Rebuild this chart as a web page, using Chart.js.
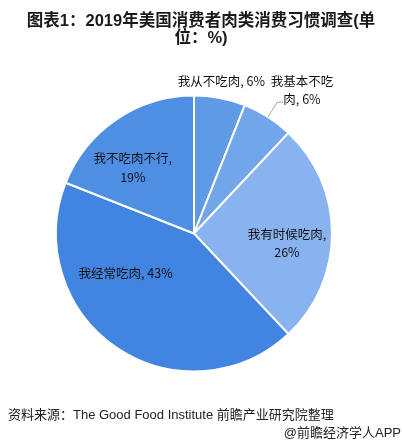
<!DOCTYPE html>
<html>
<head>
<meta charset="utf-8">
<script src="https://cdn.jsdelivr.net/npm/chart.js@4"></script>
<style>
  html, body { margin: 0; padding: 0; background: #fff; }
  #wrap { position: relative; width: 402px; height: 445px; overflow: hidden; }
  #title {
    position: absolute; left: 0; top: 12px; width: 402px; text-align: center;
    font: bold 16.5px "Liberation Sans", "Noto Sans CJK SC", sans-serif;
    line-height: 16.5px; color: #1a1a1a;
  }
  #source {
    position: absolute; left: 8px; top: 404px;
    font: 13px "Liberation Sans", "Noto Sans CJK SC", sans-serif; color: #222;
  }
  #brand {
    position: absolute; right: 1px; top: 422px;
    font: 13px "Liberation Sans", "Noto Sans CJK SC", sans-serif; color: #222;
  }
  canvas { position: absolute; left: 0; top: 0; }
</style>
</head>
<body>
<div id="wrap">
  <canvas id="pieChart" width="402" height="445"></canvas>
  <div id="title">图表1：2019年美国消费者肉类消费习惯调查(单<br>位：%)</div>
  <div id="source">资料来源：The Good Food Institute 前瞻产业研究院整理</div>
  <div id="brand">@前瞻经济学人APP</div>
</div>
<script>
const categories = ['我从不吃肉', '我基本不吃肉', '我有时候吃肉', '我经常吃肉', '我不吃肉不行'];
const shares = [6, 6, 26, 43, 19];
const sliceColors = ['#5f9ae6', '#72a6eb', '#88b3ef', '#4285e0', '#4f8fe3'];

// where each label sits: radius fraction and angle shift (deg) from slice middle,
// char index to wrap at (0 = no wrap), whether a leader line is drawn
const labelLayout = [
    { r: 1.12, da: -0.6, wrap: 0 },
    { r: 1.30, da: 4.6, wrap: 5, leader: true },
    { r: 0.677, da: 6.1, wrap: 7 },
    { r: 0.575, da: 25.4, wrap: 0 },
    { r: 0.65, da: -8.8, wrap: 7 }
];

const sliceLabels = {
    id: 'sliceLabels',
    afterDatasetsDraw(chart) {
        const ctx = chart.ctx;
        const meta = chart.getDatasetMeta(0);
        ctx.save();
        ctx.font = '12.5px "Noto Sans CJK SC", sans-serif';
        ctx.fillStyle = '#111';
        ctx.textAlign = 'center';
        ctx.textBaseline = 'middle';
        meta.data.forEach((arc, i) => {
            const p = arc.getProps(['x', 'y', 'startAngle', 'endAngle', 'outerRadius'], true);
            const mid = (p.startAngle + p.endAngle) / 2;
            const lay = labelLayout[i];
            const a = mid + lay.da * Math.PI / 180;
            const cx = p.x + Math.cos(a) * p.outerRadius * lay.r;
            const cy = p.y + Math.sin(a) * p.outerRadius * lay.r;
            const text = categories[i] + ', ' + shares[i] + '%';
            let lines = [text];
            if (lay.wrap) {
                lines = [text.slice(0, lay.wrap), text.slice(lay.wrap).trim()];
            }
            const lh = 18.5;
            lines.forEach((ln, k) => {
                ctx.fillText(ln, cx, cy + (k - (lines.length - 1) / 2) * lh);
            });
            if (lay.leader) {
                const x0 = p.x + Math.cos(mid) * p.outerRadius;
                const y0 = p.y + Math.sin(mid) * p.outerRadius;
                const x1 = p.x + Math.cos(mid) * p.outerRadius * 1.127;
                const y1 = p.y + Math.sin(mid) * p.outerRadius * 1.127;
                ctx.strokeStyle = '#a6a6a6';
                ctx.lineWidth = 1;
                ctx.beginPath();
                ctx.moveTo(x0, y0);
                ctx.lineTo(x1, y1);
                ctx.lineTo(x1 + 6, y1);
                ctx.stroke();
            }
        });
        ctx.restore();
    }
};

new Chart(document.getElementById('pieChart').getContext('2d'), {
    type: 'pie',
    data: {
        labels: categories,
        datasets: [{
            data: shares,
            backgroundColor: sliceColors,
            borderColor: '#ffffff',
            borderWidth: 2
        }]
    },
    options: {
        responsive: false,
        animation: false,
        layout: { padding: { left: 55, right: 69, top: 94, bottom: 72 } },
        plugins: {
            legend: { display: false },
            tooltip: { enabled: false }
        }
    },
    plugins: [sliceLabels]
});
</script>
</body>
</html>
